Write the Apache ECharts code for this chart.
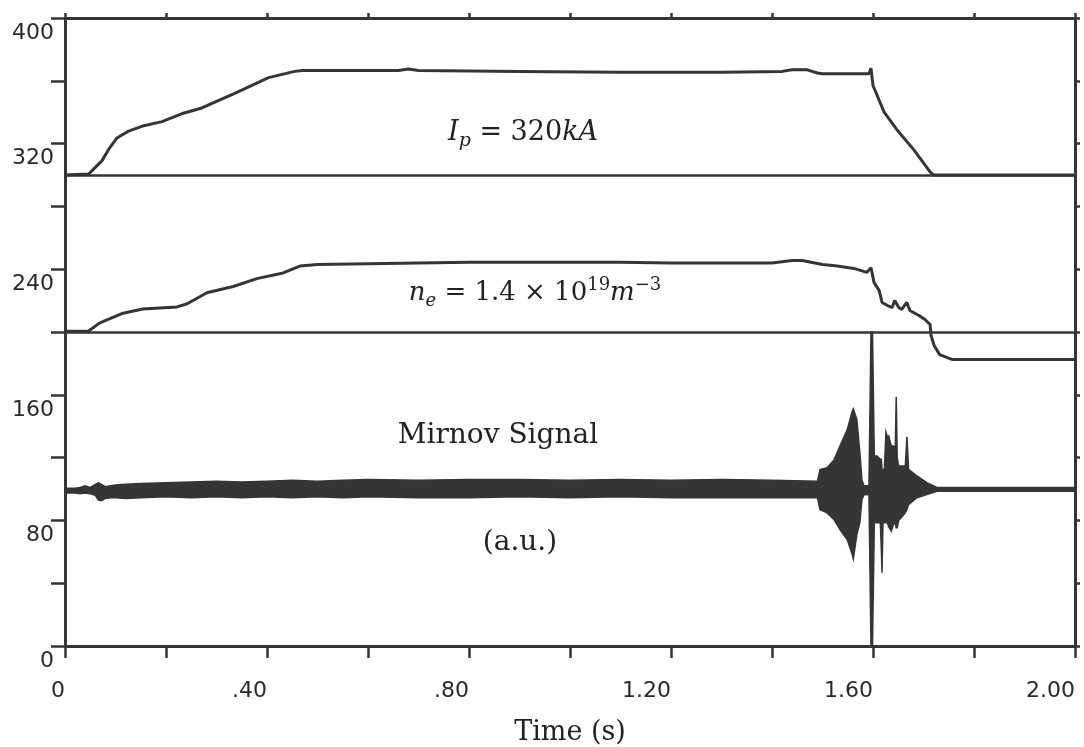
<!DOCTYPE html>
<html>
<head>
<meta charset="utf-8">
<title>Ip, ne and Mirnov signal</title>
<script src="https://cdn.jsdelivr.net/npm/echarts@6.0.0/dist/echarts.min.js"></script>
<style>
  html, body { margin: 0; padding: 0; background: #fff; }
  #main { width: 1084px; height: 747px; }
</style>
</head>
<body>
<div id="main"></div>
<script>
  // plasma current trace (zero level sits at 300)
  var ipTime  = [0, 0.047, 0.073, 0.087, 0.103, 0.126, 0.152, 0.192, 0.231, 0.271, 0.336, 0.403, 0.455, 0.47,
                 0.60, 0.66, 0.68, 0.70, 0.90, 1.10, 1.30, 1.42, 1.44, 1.47, 1.49, 1.50, 1.592, 1.596,
                 1.600, 1.622, 1.647, 1.681, 1.713, 1.72, 2.0];
  var ipValue = [300, 300.6, 309, 316.6, 323.6, 328, 331, 334, 339, 342.7, 352, 362, 366, 366.5,
                 366.5, 366.5, 367.5, 366.5, 366, 365.5, 365.5, 366, 367, 367, 365, 364.5, 364.5, 368,
                 357, 340, 329, 316, 302, 300, 300];

  // line density trace (zero level sits at 200)
  var neTime  = [0, 0.046, 0.069, 0.115, 0.154, 0.222, 0.242, 0.281, 0.333, 0.380, 0.432, 0.465, 0.50,
                 0.60, 0.70, 0.80, 0.90, 1.00, 1.10, 1.20, 1.30, 1.40, 1.44, 1.46, 1.50, 1.529, 1.562,
                 1.588, 1.596, 1.602, 1.612, 1.618, 1.628, 1.638, 1.643, 1.651, 1.657, 1.667, 1.673,
                 1.691, 1.703, 1.713, 1.715, 1.721, 1.732, 1.756, 2.0];
  var neValue = [200.5, 200.5, 205.8, 212, 214.7, 216, 218, 225, 229, 234, 237.6, 242, 243,
                 243.5, 244, 244.5, 244.5, 244.5, 244.5, 244, 244, 244, 245.5, 245.5, 243, 242, 240.5,
                 238, 241, 231.6, 226.5, 218.8, 217, 215.6, 220, 215.6, 214.4, 218.8, 213.7,
                 210.5, 208, 204.8, 197.8, 191.4, 185.6, 182.5, 182.5];

  // mirnov signal, read as upper / lower envelope of the trace
  var mirnovTime  = [0, 0.02, 0.03, 0.04, 0.05, 0.06, 0.066, 0.072, 0.08, 0.09, 0.10, 0.12, 0.15, 0.20,
                     0.25, 0.30, 0.35, 0.40, 0.45, 0.50, 0.55, 0.60, 0.70, 0.80, 0.90, 1.00, 1.10, 1.20,
                     1.30, 1.40, 1.49, 1.495, 1.509, 1.523, 1.535, 1.549, 1.558, 1.561, 1.568, 1.574,
                     1.578, 1.582, 1.592, 1.596, 1.599, 1.6026, 1.608, 1.6145, 1.6165, 1.6178, 1.6198,
                     1.6224, 1.6257, 1.6285, 1.631, 1.6362, 1.6409, 1.6441, 1.646, 1.648, 1.6508,
                     1.6639, 1.6672, 1.6705, 1.687, 1.7067, 1.7265, 2.0];
  var mirnovUpper = [100.5, 100.5, 101, 102, 101, 103, 104, 103, 101.5, 102, 102.5, 103, 103.5, 104,
                     104.5, 105, 104.5, 105, 105.5, 105, 105.5, 106, 105.5, 106, 106, 105.5, 106, 105.5,
                     106, 105.5, 105, 112.3, 113.5, 118.7, 127.6, 137.8, 148.6, 151, 144.4, 123,
                     106, 102, 102, 200, 200, 121, 121, 118.9, 118.9, 112.5, 112.5,
                     112.5, 136.3, 133, 133.8, 127.4, 127.4, 125, 158.8, 120, 114.6,
                     114.6, 133.3, 112.5, 108.3, 104, 101, 101];
  var mirnovLower = [97.5, 97.5, 97, 97.5, 97, 96, 93, 92.5, 94, 94.5, 94.5, 94, 94.5, 95,
                     94.5, 95, 94.5, 95, 94.5, 95, 94.5, 95, 94.5, 94.5, 95, 94.5, 95, 94.5,
                     94.5, 94.5, 94.5, 86.8, 84.8, 80.4, 74, 67.6, 59.3, 55.5, 70.8, 78.8,
                     93.1, 96.3, 96.3, 0, 0, 78.5, 78.5, 78.5, 62, 46.6, 78.5,
                     78.5, 78.5, 78.5, 76, 73.2, 78, 78, 75.3, 75.3, 80,
                     84.8, 87, 90.1, 94.4, 96.5, 98.5, 98.5];

  // zero levels of Ip and ne
  var baselines = [300, 200];

  var xTickLabels = ['0', '.40', '.80', '1.20', '1.60', '2.00'];
  var yTickLabels = ['0', '80', '160', '240', '320', '400'];

  var ink = '#353535';
  var textInk = '#222';

  function pairs(xs, ys) {
    return xs.map(function (x, i) { return [x, ys[i]]; });
  }

  var chart = echarts.init(document.getElementById('main'));

  var frameLine = { show: true, onZero: false, lineStyle: { color: ink, width: 3 } };

  chart.setOption({
    backgroundColor: '#ffffff',
    animation: false,
    grid: { left: 65, right: 9, top: 18, bottom: 101, containLabel: false, outerBoundsMode: 'none' },
    xAxis: [
      {
        type: 'value', min: 0, max: 2, interval: 0.2, position: 'bottom',
        axisLine: frameLine,
        axisTick: { show: true, length: 12, lineStyle: { color: ink, width: 2.5 } },
        axisLabel: {
          margin: 34, align: 'right',
          fontFamily: 'DejaVu Sans', fontSize: 22, color: '#2a2a2a',
          formatter: function (v) {
            var k = v / 0.4, r = Math.round(k);
            return Math.abs(k - r) < 1e-6 ? xTickLabels[r] : '';
          }
        },
        splitLine: { show: false }
      },
      {
        type: 'value', min: 0, max: 2, interval: 0.2, position: 'top',
        axisLine: frameLine,
        axisTick: { show: true, length: 5, lineStyle: { color: ink, width: 2.5 } },
        axisLabel: { show: false },
        splitLine: { show: false }
      }
    ],
    yAxis: [
      {
        type: 'value', min: 0, max: 400, interval: 40, position: 'left',
        axisLine: frameLine,
        axisTick: { show: true, length: 14, lineStyle: { color: ink, width: 2.5 } },
        axisLabel: {
          margin: 11, verticalAlign: 'top', padding: [4, 0, 0, 0],
          fontFamily: 'DejaVu Sans', fontSize: 22, color: '#2a2a2a',
          formatter: function (v) {
            return v % 80 === 0 ? yTickLabels[v / 80] : '';
          }
        },
        splitLine: { show: false }
      },
      {
        type: 'value', min: 0, max: 400, interval: 40, position: 'right',
        axisLine: frameLine,
        axisTick: { show: true, length: 5, lineStyle: { color: ink, width: 2.5 } },
        axisLabel: { show: false },
        splitLine: { show: false }
      }
    ],
    series: [
      {
        name: 'Ip', type: 'line', data: pairs(ipTime, ipValue),
        symbol: 'none', silent: true,
        lineStyle: { color: ink, width: 3 },
        markLine: {
          symbol: ['none', 'none'], silent: true, animation: false,
          label: { show: false },
          lineStyle: { color: ink, width: 2.5, type: 'solid' },
          data: baselines.map(function (v) { return { yAxis: v }; })
        }
      },
      {
        name: 'ne', type: 'line', data: pairs(neTime, neValue),
        symbol: 'none', silent: true,
        lineStyle: { color: ink, width: 3 }
      },
      {
        // the whole envelope is drawn as one filled polygon on the first item
        name: 'Mirnov', type: 'custom', silent: true, clip: true,
        data: mirnovTime.map(function (t, i) { return [t, mirnovUpper[i], mirnovLower[i]]; }),
        encode: { x: 0, y: [1, 2] },
        renderItem: function (params, api) {
          if (params.dataIndex !== 0) return null;
          var top = [], bottom = [];
          for (var i = 0; i < mirnovTime.length; i++) {
            top.push(api.coord([mirnovTime[i], mirnovUpper[i]]));
            bottom.push(api.coord([mirnovTime[i], mirnovLower[i]]));
          }
          return {
            type: 'polygon',
            shape: { points: top.concat(bottom.reverse()) },
            style: { fill: ink, stroke: ink, lineWidth: 1.5 }
          };
        }
      }
    ],
    graphic: [
      {
        type: 'text', x: 523, y: 133,
        style: {
          text: '{i|I}{s|p}{r| = 320}{i|kA}',
          fill: textInk, align: 'center', verticalAlign: 'middle',
          rich: {
            i: { fontFamily: 'DejaVu Serif', fontStyle: 'italic', fontSize: 27, fill: textInk },
            s: { fontFamily: 'DejaVu Serif', fontStyle: 'italic', fontSize: 19, padding: [16, 0, 0, 0], fill: textInk },
            r: { fontFamily: 'DejaVu Serif', fontSize: 27, fill: textInk }
          }
        }
      },
      {
        type: 'text', x: 535, y: 293,
        style: {
          text: '{i|n}{s|e}{r| = 1.4 × 10}{p|19}{i|m}{p|−3}',
          fill: textInk, align: 'center', verticalAlign: 'middle',
          rich: {
            i: { fontFamily: 'DejaVu Serif', fontStyle: 'italic', fontSize: 26, fill: textInk },
            s: { fontFamily: 'DejaVu Serif', fontStyle: 'italic', fontSize: 18, padding: [16, 0, 0, 0], fill: textInk },
            r: { fontFamily: 'DejaVu Serif', fontSize: 26, fill: textInk },
            p: { fontFamily: 'DejaVu Serif', fontSize: 18, padding: [0, 0, 16, 0], fill: textInk }
          }
        }
      },
      {
        type: 'text', x: 498, y: 436,
        style: {
          text: 'Mirnov Signal', fill: textInk, align: 'center', verticalAlign: 'middle',
          font: '28px "DejaVu Serif"'
        }
      },
      {
        type: 'text', x: 520, y: 543,
        style: {
          text: '(a.u.)', fill: textInk, align: 'center', verticalAlign: 'middle',
          font: '28px "DejaVu Serif"'
        }
      },
      {
        type: 'text', x: 570, y: 733,
        style: {
          text: 'Time (s)', fill: textInk, align: 'center', verticalAlign: 'middle',
          font: '27px "DejaVu Serif"'
        }
      }
    ]
  });
</script>
</body>
</html>
